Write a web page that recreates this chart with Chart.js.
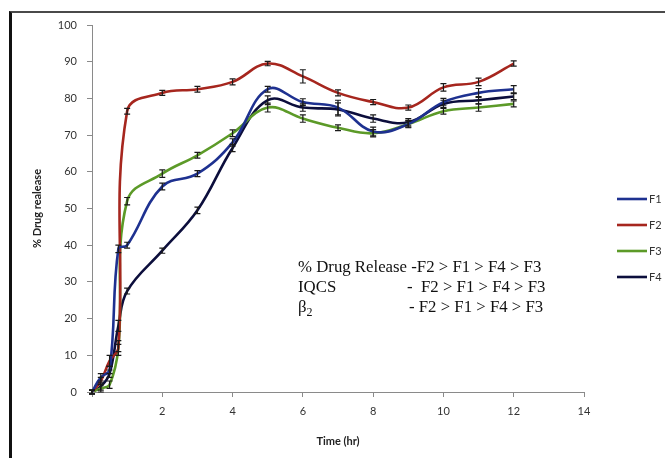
<!DOCTYPE html>
<html>
<head>
<meta charset="utf-8">
<script src="https://cdn.jsdelivr.net/npm/chart.js@4.4.1/dist/chart.umd.min.js"></script>
<style>
  html, body { margin: 0; padding: 0; background: #fff; }
  #wrap { position: relative; width: 665px; height: 458px; overflow: hidden; background: #fff; }
  #frame { position: absolute; left: 9px; top: 11px; width: 720px; height: 520px;
           border-left: 3px solid #111; border-top: 2px solid #4a4a4a; box-sizing: border-box; }
  canvas { position: absolute; left: 0; top: 0; }
  .note { position: absolute; font-family: "Liberation Serif", "Times New Roman", serif;
          font-size: 16.8px; color: #111; white-space: nowrap; line-height: 20px; }
</style>
</head>
<body>
<div id="wrap">
  <div id="frame"></div>
  <canvas id="c" width="665" height="458"></canvas>
  <div class="note" style="left:298px; top:257px;">% Drug Release -F2 &gt; F1 &gt; F4 &gt; F3</div>
  <div class="note" style="left:298px; top:277px;">IQCS</div>
  <div class="note" style="left:407px; top:277px;">-&nbsp; F2 &gt; F1 &gt; F4 &gt; F3</div>
  <div class="note" style="left:298px; top:297px;">β<sub style="font-size:12px;">2</sub></div>
  <div class="note" style="left:409px; top:297px;">- F2 &gt; F1 &gt; F4 &gt; F3</div>
</div>
<script>
// ---- data ----
const times = [0, 0.25, 0.5, 0.75, 1, 2, 3, 4, 5, 6, 7, 8, 9, 10, 11, 12];
const seriesNames = ["F1", "F2", "F3", "F4"];
const f1 = [0, 4, 6, 39, 40, 56, 59.5, 68, 82.5, 79, 77.5, 71, 73, 79, 81.5, 82.5];
const f2 = [0, 3, 8.5, 12, 76.5, 81.5, 82.5, 84.5, 89.5, 86, 81.5, 79, 77.5, 83, 84.5, 89.5];
const f3 = [0, 1, 2, 12, 52, 59.5, 64.5, 70.5, 77.5, 74.5, 72, 70.5, 73, 76.5, 77.5, 78.5];
const f4 = [0, 1.5, 5, 18, 27.5, 38.5, 49.5, 66.5, 79.5, 77.5, 77, 74.5, 73.5, 78.5, 79.5, 80.5];
const e1 = [0.5, 1, 1, 1, 0.8, 0.9, 0.8, 1, 0.8, 0.9, 2, 1.2, 1, 1, 1.2, 1];
const e2 = [0.5, 1, 1.5, 1, 0.8, 0.7, 0.8, 0.8, 0.6, 1.8, 0.8, 0.7, 0.7, 1, 1, 0.7];
const e3 = [0.5, 1, 1, 2, 1, 1, 0.8, 0.9, 1.2, 1, 0.8, 1, 0.8, 0.8, 1, 0.8];
const e4 = [0.5, 1, 1, 1.5, 0.8, 0.7, 0.9, 1, 1.2, 1, 1.8, 1, 1, 1, 1, 0.8];
const xTicks = [0, 2, 4, 6, 8, 10, 12, 14];
const yTicks = [0, 10, 20, 30, 40, 50, 60, 70, 80, 90, 100];

const colors = ["#1e3190", "#a6261e", "#5c9a28", "#0c0e3c"];
const values = [f1, f2, f3, f4];
const errors = [e1, e2, e3, e4];

const datasets = seriesNames.map((name, i) => ({
  label: name,
  data: times.map((t, j) => ({ x: t, y: values[i][j] })),
  borderColor: colors[i],
  backgroundColor: colors[i],
  borderWidth: 2.6,
  pointRadius: 0,
  tension: 0.4,
  fill: false,
  errs: errors[i]
}));

const errorBarPlugin = {
  id: 'errorBars',
  afterDatasetsDraw(chart) {
    const ctx = chart.ctx;
    const ys = chart.scales.y;
    ctx.save();
    ctx.strokeStyle = '#1a1a1a';
    ctx.lineWidth = 1.2;
    chart.data.datasets.forEach((ds, i) => {
      const meta = chart.getDatasetMeta(i);
      meta.data.forEach((pt, j) => {
        const v = ds.data[j].y, e = ds.errs[j];
        const x = pt.x;
        const yTop = ys.getPixelForValue(v + e);
        const yBot = ys.getPixelForValue(v - e);
        ctx.beginPath();
        ctx.moveTo(x, yTop); ctx.lineTo(x, yBot);
        ctx.moveTo(x - 3, yTop); ctx.lineTo(x + 3, yTop);
        ctx.moveTo(x - 3, yBot); ctx.lineTo(x + 3, yBot);
        ctx.stroke();
      });
    });
    ctx.restore();
  }
};

const legendPlugin = {
  id: 'sideLegend',
  afterDraw(chart) {
    const ctx = chart.ctx;
    ctx.save();
    ctx.font = '11px Lato, "Open Sans", sans-serif';
    ctx.textBaseline = 'middle';
    ctx.fillStyle = '#333';
    chart.data.datasets.forEach((ds, i) => {
      const y = 199 + i * 26;
      ctx.strokeStyle = ds.borderColor;
      ctx.lineWidth = 2.6;
      ctx.beginPath();
      ctx.moveTo(617, y); ctx.lineTo(647, y);
      ctx.stroke();
      ctx.fillText(ds.label, 649, y);
    });
    ctx.restore();
  }
};

const tickFont = { family: 'Lato, "Open Sans", sans-serif', size: 11 };

new Chart(document.getElementById('c'), {
  type: 'line',
  data: { datasets },
  plugins: [errorBarPlugin, legendPlugin],
  options: {
    responsive: false,
    animation: false,
    layout: { padding: { left: 0, top: 25, right: 81, bottom: 0 } },
    plugins: { legend: { display: false }, tooltip: { enabled: false } },
    scales: {
      x: {
        type: 'linear',
        min: xTicks[0], max: xTicks[xTicks.length - 1],
        afterBuildTicks(s) { s.ticks = xTicks.map(v => ({ value: v })); },
        afterFit(s) { s.height = 66; },
        ticks: { font: tickFont, color: '#333', padding: 8, maxRotation: 0,
                 callback: v => (v === 0 ? '' : String(v)) },
        grid: { display: true, drawOnChartArea: false, drawTicks: true, tickLength: 5, color: '#8a8a8a' },
        border: { display: true, color: '#8a8a8a', width: 1 },
        title: { display: true, text: 'Time (hr)', color: '#222',
                 font: { family: 'Lato, "Open Sans", sans-serif', size: 11, weight: 'bold' },
                 padding: { top: 4, bottom: 10 } }
      },
      y: {
        min: yTicks[0], max: yTicks[yTicks.length - 1],
        afterBuildTicks(s) { s.ticks = yTicks.map(v => ({ value: v })); },
        afterFit(s) { s.width = 92; },
        ticks: { font: tickFont, color: '#333', padding: 10 },
        grid: { display: true, drawOnChartArea: false, drawTicks: true, tickLength: 5, color: '#8a8a8a' },
        border: { display: true, color: '#8a8a8a', width: 1 },
        title: { display: true, text: '% Drug realease', color: '#222',
                 font: { family: 'Lato, "Open Sans", sans-serif', size: 11, weight: 'bold' },
                 padding: { top: 31, bottom: 0 } }
      }
    }
  }
});
</script>
</body>
</html>
